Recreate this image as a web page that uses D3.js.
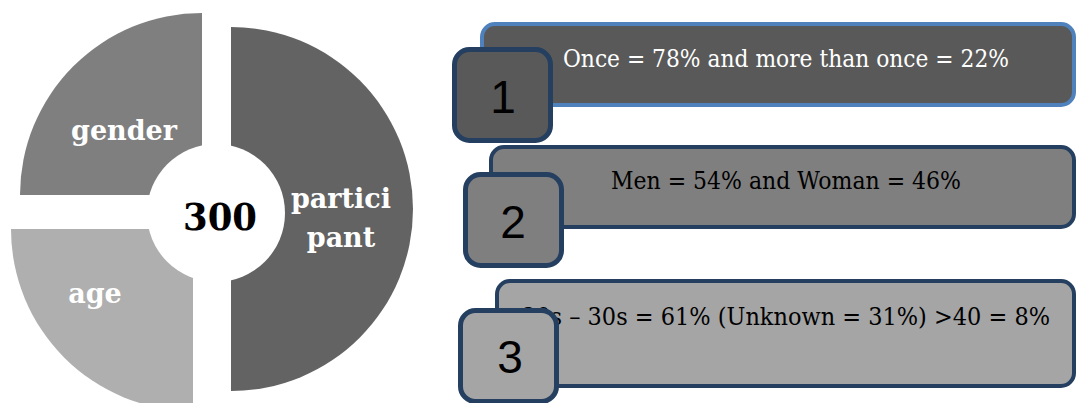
<!DOCTYPE html>
<html>
<head>
<meta charset="utf-8">
<script src="https://cdn.jsdelivr.net/npm/d3@7"></script>
<style>
  html, body { margin: 0; padding: 0; background: #fff; }
  svg { display: block; }
</style>
</head>
<body>
<div class="js-chart"></div>
<script>
// pie segments
var segLabels = [["partici", "pant"], ["age"], ["gender"]];
var segValues = [50, 25, 25];
var centerText = "300";

// steps on the right
var stepNumbers = ["1", "2", "3"];
var stepTexts = [
  "Once = 78% and more than once = 22%",
  "Men = 54% and Woman = 46%",
  "20s \u2013 30s = 61% (Unknown = 31%) >40 = 8%"
];

// styles
var segColors = ["#636363", "#afafaf", "#7f7f7f"];
var stepFills = ["#595959", "#7f7f7f", "#a5a5a5"];
var stepBorders = ["#4f81bd", "#243f60", "#243f60"];
var stepTextColors = ["#ffffff", "#000000", "#000000"];

var width = 1076, height = 403;
var R = 182;

var svg = d3.select(".js-chart").append("svg")
  .attr("width", width)
  .attr("height", height);

// each segment is pulled out a little from the middle
var segCenters = [[231, 209], [193, 229], [202, 195]];
var labelPos = [[341, 208], [95, 303], [124, 140]];

var pie = d3.pie().sort(null)(segValues);
var arc = d3.arc().innerRadius(0).outerRadius(R);

svg.selectAll("path.seg")
  .data(pie)
  .enter()
  .append("path")
  .attr("class", "seg")
  .attr("transform", function(d, i) { return "translate(" + segCenters[i][0] + "," + segCenters[i][1] + ")"; })
  .attr("d", arc)
  .attr("fill", function(d, i) { return segColors[i]; });

// hole
svg.append("circle")
  .attr("cx", 216)
  .attr("cy", 213)
  .attr("r", 69)
  .attr("fill", "#fff");

svg.append("text")
  .attr("x", 220)
  .attr("y", 230)
  .attr("text-anchor", "middle")
  .attr("font-family", "DejaVu Serif")
  .attr("font-weight", "bold")
  .attr("font-size", 38)
  .attr("textLength", 74)
  .attr("lengthAdjust", "spacingAndGlyphs")
  .attr("fill", "#000")
  .text(centerText);

segLabels.forEach(function(lines, i) {
  lines.forEach(function(line, j) {
    svg.append("text")
      .attr("x", labelPos[i][0])
      .attr("y", labelPos[i][1] + j * 39)
      .attr("text-anchor", "middle")
      .attr("font-family", "DejaVu Serif")
      .attr("font-weight", "bold")
      .attr("font-size", 27)
      .attr("fill", "#fff")
      .text(line);
  });
});

// step boxes
var boxes = [
  {x: 482, y: 24, h: 81, sx: 452, sy: 47, textY: 67, numX: 503, numY: 113, len: 446},
  {x: 491, y: 147, h: 80, sx: 463, sy: 172, textY: 189, numX: 513, numY: 238, len: 350},
  {x: 497, y: 281, h: 105, sx: 458, sy: 308, textY: 325, numX: 510, numY: 373, len: 528}
];
var boxRight = 1074;
var sqSize = 101;
var textCenter = 786;

var steps = svg.selectAll("g.step")
  .data(stepNumbers)
  .enter()
  .append("g")
  .attr("class", "step");

steps.append("rect")
  .attr("x", function(d, i) { return boxes[i].x; })
  .attr("y", function(d, i) { return boxes[i].y; })
  .attr("width", function(d, i) { return boxRight - boxes[i].x; })
  .attr("height", function(d, i) { return boxes[i].h; })
  .attr("rx", 13)
  .attr("fill", function(d, i) { return stepFills[i]; })
  .attr("stroke", function(d, i) { return stepBorders[i]; })
  .attr("stroke-width", 4);

steps.append("text")
  .attr("x", textCenter)
  .attr("y", function(d, i) { return boxes[i].textY; })
  .attr("text-anchor", "middle")
  .attr("font-family", "DejaVu Serif")
  .attr("font-size", 25)
  .attr("textLength", function(d, i) { return boxes[i].len; })
  .attr("lengthAdjust", "spacingAndGlyphs")
  .attr("fill", function(d, i) { return stepTextColors[i]; })
  .text(function(d, i) { return stepTexts[i]; });

steps.append("rect")
  .attr("x", function(d, i) { return boxes[i].sx + 2.5; })
  .attr("y", function(d, i) { return boxes[i].sy + 2.5; })
  .attr("width", sqSize - 5)
  .attr("height", sqSize - 10)
  .attr("rx", 15)
  .attr("fill", function(d, i) { return stepFills[i]; })
  .attr("stroke", "#243f60")
  .attr("stroke-width", 5);

steps.append("text")
  .attr("x", function(d, i) { return boxes[i].numX; })
  .attr("y", function(d, i) { return boxes[i].numY; })
  .attr("text-anchor", "middle")
  .attr("font-family", "Liberation Sans")
  .attr("font-size", 46)
  .attr("fill", "#000")
  .text(function(d) { return d; });
</script>
</body>
</html>
